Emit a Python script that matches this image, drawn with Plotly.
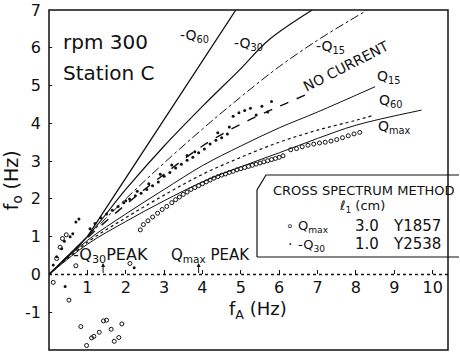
import plotly.graph_objects as go

# ---------------- data ----------------
# theoretical curves (fA, fo)
negQ60_x = [0, 1.0, 2.0, 3.0, 4.0, 4.87]
negQ60_y = [0, 1.0, 2.55, 4.1, 5.65, 7.0]
negQ30_x = [0, 1, 2, 3, 4, 5, 5.72, 6.86]
negQ30_y = [0, 1.0, 2.25, 3.4, 4.45, 5.45, 6.2, 7.0]
negQ15_x = [0, 1, 2, 3, 4, 5, 6, 7, 7.8, 8.3]
negQ15_y = [0, 1.0, 2.0, 2.95, 3.85, 4.7, 5.5, 6.2, 6.7, 7.0]
nocur_x = [0, 1, 2, 3, 4, 5, 6, 6.8]
nocur_y = [0, 0.97, 1.85, 2.65, 3.4, 3.98, 4.45, 4.8]
Q15_x = [0, 1, 2, 3, 4, 5, 6, 7, 8.5]
Q15_y = [0, 0.9, 1.6, 2.25, 2.88, 3.4, 3.88, 4.3, 4.97]
Q60_x = [0, 1, 2, 3, 4, 5, 6, 7, 8, 8.45]
Q60_y = [0, 0.85, 1.5, 2.1, 2.65, 3.1, 3.5, 3.82, 4.08, 4.21]
Qmax_x = [0, 1, 2, 3, 4, 5, 6, 7, 8, 9.71]
Qmax_y = [0, 0.8, 1.4, 1.95, 2.45, 2.85, 3.22, 3.6, 3.95, 4.35]

# measured points: Qmax (open circles)
qmax_px = [0.11, 0.52, 0.83, 0.98, 1.11, 1.17, 1.31, 1.42, 1.5, 1.62, 1.70, 1.82, 1.9,
           0.2, 0.29, 0.35, 0.45, 0.7, 2.11,
           2.38, 2.46, 2.58, 2.7, 2.83, 2.95, 3.07, 3.2, 3.3, 3.4, 3.5, 3.6, 3.7, 3.8,
           3.9, 4.0, 4.1, 4.2, 4.3, 4.4, 4.5, 4.6, 4.7, 4.8, 4.9, 5.0, 5.1, 5.2, 5.3,
           5.4, 5.5, 5.6, 5.7, 5.8, 5.9, 6.0, 6.1, 6.3, 6.45, 6.6, 6.75, 6.9, 7.05,
           7.2, 7.35, 7.5, 7.65, 7.8, 7.95, 8.1]
qmax_py = [-0.21, -0.68, -1.38, -1.88, -1.68, -1.64, -1.53, -1.23, -1.21, -1.45, -1.77, -1.67, -1.31,
           0.42, 0.72, 0.95, 1.05, 0.23, 0.29,
           1.18, 1.32, 1.42, 1.52, 1.62, 1.72, 1.80, 1.90, 1.98, 2.05, 2.12, 2.18, 2.25, 2.30,
           2.35, 2.40, 2.45, 2.50, 2.55, 2.59, 2.63, 2.66, 2.70, 2.73, 2.77, 2.80, 2.83, 2.86, 2.89,
           2.92, 2.95, 2.98, 3.01, 3.04, 3.07, 3.10, 3.14, 3.30, 3.33, 3.38, 3.42, 3.45, 3.48,
           3.50, 3.53, 3.57, 3.62, 3.67, 3.72, 3.76]

# measured points: -Q30 (dots)
q30_px = [0.42, 2.22, 0.11, 0.2, 0.33, 0.4, 0.55, 0.62, 0.7, 0.78,
          1.07, 1.2, 1.35, 1.5, 1.65, 1.8, 1.95, 2.1, 2.25, 2.4, 2.55, 2.7, 2.85, 3.0,
          3.15, 3.3, 3.45, 3.6, 3.75, 3.9, 4.05, 4.2, 4.35, 4.5, 4.65,
          4.8, 4.95, 5.1, 5.25, 5.4, 5.55, 5.7, 5.8,
          2.0, 2.3, 2.6, 2.9, 3.2, 3.6, 3.8, 4.4, 4.7]
q30_py = [-0.32, 0.18, 0.25, 0.47, 0.68, 0.88, 1.0, 1.08, 1.39, 1.47,
          1.21, 1.35, 1.5, 1.6, 1.7, 1.8, 1.9, 2.0, 2.08, 2.15, 2.25, 2.35, 2.45, 2.6,
          2.7, 2.82, 2.92, 3.02, 3.1, 3.22, 3.32, 3.45, 3.55, 3.62, 3.72,
          4.19, 4.28, 4.34, 4.4, 4.22, 4.45, 4.3, 4.58,
          1.95, 2.2, 2.4, 2.65, 2.9, 3.15, 3.25, 3.75, 3.9]

x_ticks = [1, 2, 3, 4, 5, 6, 7, 8, 9, 10]
y_ticks = [-2, -1, 0, 1, 2, 3, 4, 5, 6, 7]
y_tick_labels = ["-2", "-1", "0", "1", "2", "3", "4", "5", "6", "7"]

FONT = "DejaVu Sans"
INK = "#111111"

fig = go.Figure()

curves = [
    (negQ60_x, negQ60_y, "solid", 1.3, "linear"),
    (negQ30_x, negQ30_y, "solid", 1.2, "spline"),
    (negQ15_x, negQ15_y, "dashdot", 1.0, "spline"),
    (nocur_x, nocur_y, "dash", 1.4, "spline"),
    (Q15_x, Q15_y, "solid", 1.0, "spline"),
    (Q60_x, Q60_y, "dot", 1.2, "spline"),
    (Qmax_x, Qmax_y, "solid", 1.0, "spline"),
]
for cx, cy, dash, w, shape in curves:
    fig.add_trace(go.Scatter(x=cx, y=cy, mode="lines", line=dict(color=INK, width=w, dash=dash),
                             line_shape=shape, hoverinfo="skip", showlegend=False))

fig.add_trace(go.Scatter(x=qmax_px, y=qmax_py, mode="markers",
                         marker=dict(symbol="circle-open", size=4, color=INK, line=dict(width=1)),
                         showlegend=False))
fig.add_trace(go.Scatter(x=q30_px, y=q30_py, mode="markers",
                         marker=dict(symbol="circle", size=3, color=INK),
                         showlegend=False))

# frame, zero line, legend box
fig.add_shape(type="rect", xref="paper", yref="paper", x0=0, x1=1, y0=0, y1=1,
              line=dict(color=INK, width=1.5))
fig.add_shape(type="line", xref="x", yref="y", x0=0, x1=10.4, y0=0, y1=0,
              line=dict(color=INK, width=1.5, dash="dot"))
bx0, bx1, by0, by1 = (257 - 49) / 399, (459 - 49) / 399, (350 - 257) / 340, (350 - 175) / 340
fig.add_shape(type="path", xref="paper", yref="paper",
              path=f"M {bx0},{by0} L {bx0},{by1 - 15/340} L {bx0 + 9/399},{by1} L {bx1},{by1} "
                   f"M {bx0},{by0} L {bx1},{by0}",
              line=dict(color=INK, width=1.2))

def ann(x, y, text, size=14, angle=0, xref="x", yref="y", xanchor="center"):
    fig.add_annotation(x=x, y=y, xref=xref, yref=yref, text=text, showarrow=False,
                       textangle=angle, xanchor=xanchor, yanchor="middle",
                       font=dict(family=FONT, size=size, color=INK))

ann(0.3, 6.15, "rpm 300", size=20, xanchor="left")
ann(0.3, 5.33, "Station C", size=20, xanchor="left")
ann(3.8, 6.3, "-Q<sub>60</sub>")
ann(5.19, 6.1, "-Q<sub>30</sub>")
ann(7.35, 6.02, "-Q<sub>15</sub>")
ann(7.74, 5.53, "NO CURRENT", angle=-27)
ann(8.86, 5.22, "Q<sub>15</sub>")
ann(8.91, 4.6, "Q<sub>60</sub>")
ann(9.0, 3.9, "Q<sub>max</sub>")
ann(1.6, 0.5, "-Q<sub>30</sub>PEAK", size=16)
ann(4.2, 0.5, "Q<sub>max</sub> PEAK", size=15)
ann(5.45, -0.95, "f<sub>A</sub> (Hz)", size=18)
ann(-0.092, 0.5, "f<sub>o</sub> (Hz)", size=19, angle=-90, xref="paper", yref="paper")

for xa in (1.41, 3.9):
    fig.add_annotation(x=xa, y=0.3, ax=xa, ay=0.0, xref="x", yref="y", axref="x", ayref="y",
                       text="", showarrow=True, arrowhead=2, arrowsize=0.8, arrowwidth=1, arrowcolor=INK)

# legend text
def pann(px, py, text, size=13, xanchor="left"):
    fig.add_annotation(x=(px - 49) / 399, y=(350 - py) / 340, xref="paper", yref="paper",
                       text=text, showarrow=False, xanchor=xanchor, yanchor="middle",
                       font=dict(family=FONT, size=size, color=INK))

pann(364, 190, "CROSS SPECTRUM METHOD", xanchor="center")
pann(362, 207, "ℓ<sub>1</sub> (cm)", xanchor="center")
pann(284, 226, "∘", size=12)
pann(296, 227, "Q<sub>max</sub>")
pann(353, 226, "3.0", size=15)
pann(391, 226, "Y1857", size=15)
pann(286, 244, "·", size=14)
pann(296, 245, "-Q<sub>30</sub>")
pann(353, 244, "1.0", size=15)
pann(391, 244, "Y2538", size=15)

fig.update_layout(
    width=460, height=356,
    margin=dict(l=49, r=12, t=10, b=6, autoexpand=False),
    paper_bgcolor="white", plot_bgcolor="white",
    showlegend=False,
    xaxis=dict(range=[0, 10.4], showgrid=False, zeroline=False, showline=False,
               anchor="free", position=2 / 9, tickmode="array", tickvals=x_ticks,
               ticks="inside", ticklen=4, tickcolor=INK, ticklabelstandoff=2, automargin=False,
               tickfont=dict(family=FONT, size=16, color=INK)),
    yaxis=dict(range=[-2, 7], showgrid=False, zeroline=False, showline=False,
               tickmode="array", tickvals=y_ticks, ticktext=y_tick_labels,
               ticks="inside", ticklen=3, tickcolor=INK, ticklabelstandoff=7, automargin=False,
               tickfont=dict(family=FONT, size=16, color=INK)),
)

fig.write_html("out.html")
